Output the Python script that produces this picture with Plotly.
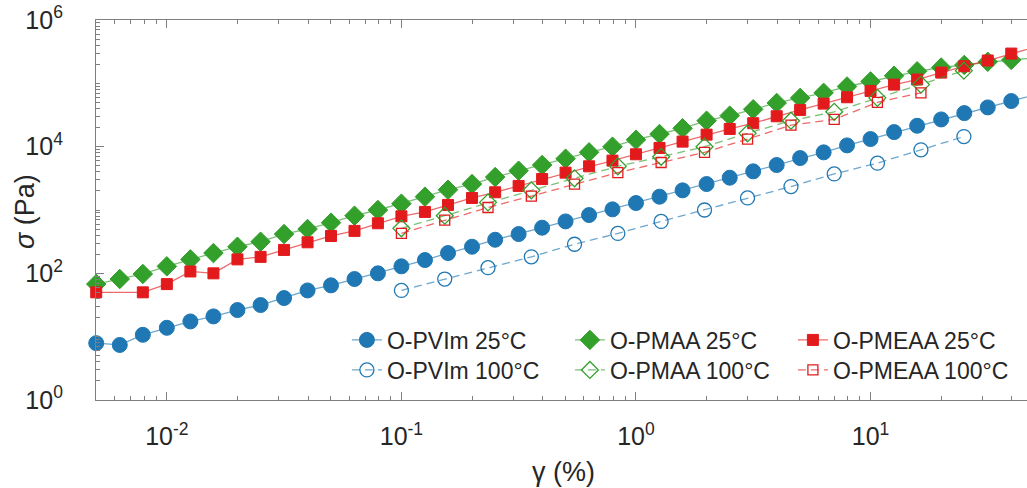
import plotly.graph_objects as go

# ---------------- data ----------------
strain_25 = [0.005, 0.0063, 0.0079, 0.01, 0.0126, 0.0158, 0.02, 0.0251, 0.0316, 0.0398,
             0.0501, 0.0631, 0.0794, 0.1, 0.126, 0.158, 0.2, 0.251, 0.316, 0.398,
             0.501, 0.631, 0.794, 1.0, 1.26, 1.58, 2.0, 2.51, 3.16, 3.98,
             5.01, 6.31, 7.94, 10.0, 12.6, 15.8, 20.0, 25.1, 31.6, 39.8, 50.1]
strain_pmeaa_25 = [0.005, 0.0079, 0.01, 0.0126, 0.0158, 0.02, 0.0251, 0.0316, 0.0398,
                   0.0501, 0.0631, 0.0794, 0.1, 0.126, 0.158, 0.2, 0.251, 0.316, 0.398,
                   0.501, 0.631, 0.794, 1.0, 1.26, 1.58, 2.0, 2.51, 3.16, 3.98,
                   5.01, 6.31, 7.94, 10.0, 12.6, 15.8, 20.0, 25.1, 31.6, 39.8, 50.1]
strain_100 = [0.1, 0.153, 0.234, 0.358, 0.547, 0.837, 1.28, 1.96, 2.99, 4.58,
              7.0, 10.7, 16.4, 25.0]
strain_pmeaa_100 = strain_100[:13]

pvim_25 = [7.9, 7.4, 10.7, 13.8, 17.4, 20.9, 26.3, 31.6, 40.7, 53.7,
           64.6, 81.3, 100, 129, 162, 209, 263, 339, 417, 525,
           661, 832, 1023, 1288, 1622, 2042, 2570, 3236, 4074, 5129,
           6607, 8128, 10470, 13180, 16980, 21380, 26920, 33880, 41690, 52480, 66070]
pmaa_25 = [67.6, 81.3, 97.7, 129, 166, 209, 263, 316, 417, 501,
           631, 813, 1000, 1259, 1622, 2089, 2570, 3311, 4169, 5129,
           6457, 8128, 10000, 12880, 15850, 19500, 25700, 30900, 38900, 48980,
           58880, 70790, 89130, 107200, 131800, 154900, 177800, 195000, 218800, 234400, 251200]
pmeaa_25 = [50.1, 50.1, 67.6, 107, 100, 166, 182, 234, 309,
            389, 468, 617, 794, 933, 1202, 1549, 1905, 2399, 3090,
            3890, 4898, 6026, 7586, 9550, 12020, 15490, 19050, 23440, 30200,
            38020, 47860, 60260, 75860, 95500, 114800, 147900, 186200, 229100, 295100, 371500]
pvim_100 = [53.7, 81.3, 123, 182, 288, 427, 661, 1000, 1549, 2344,
            3715, 5495, 8913, 14450]
pmaa_100 = [513, 813, 1318, 2042, 3162, 4898, 6918, 10000, 16220, 25700,
            35480, 58880, 95500, 158500]
pmeaa_100 = [427, 692, 1096, 1660, 2570, 3890, 5623, 8128, 13180, 21880,
             26920, 50120, 70790]

x_tick_vals = [0.01, 0.1, 1, 10]
x_tick_text = ["10<sup>-2</sup>", "10<sup>-1</sup>", "10<sup>0</sup>", "10<sup>1</sup>"]
y_tick_vals = [1, 100, 10000, 1000000]
y_tick_text = ["10<sup>0</sup>", "10<sup>2</sup>", "10<sup>4</sup>", "10<sup>6</sup>"]

# ---------------- styling ----------------
BLUE, GREEN, RED = "#1f78b4", "#33a02c", "#e31a1c"
BLUE_L, GREEN_L, RED_L = "rgba(31,120,180,0.65)", "rgba(51,160,44,0.65)", "rgba(227,26,28,0.65)"
FONT = "Liberation Sans, Arial, sans-serif"
AX = "#7f7f7f"
TXT = "#262626"

fig = go.Figure()

def add(x, y, name, color, lcolor, symbol, size, dash, legend, open_=False):
    marker = dict(symbol=symbol, size=size, color=color,
                  line=dict(color=color, width=1.3 if open_ else 1))
    fig.add_trace(go.Scatter(
        x=x, y=y, name=name, mode="lines+markers",
        line=dict(color=lcolor, width=1.3, dash=dash),
        marker=marker, cliponaxis=False, legend=legend))

add(strain_25, pvim_25, "O-PVIm 25°C", BLUE, BLUE_L, "circle", 15, "solid", "legend")
add(strain_25, pmaa_25, "O-PMAA 25°C", GREEN, GREEN_L, "diamond", 15, "solid", "legend")
add(strain_pmeaa_25, pmeaa_25, "O-PMEAA 25°C", RED, RED_L, "square", 11, "solid", "legend")
add(strain_100, pvim_100, "O-PVIm 100°C", BLUE, BLUE_L, "circle-open", 14, "8px,5px", "legend2", True)
add(strain_100, pmaa_100, "O-PMAA 100°C", GREEN, GREEN_L, "diamond-open", 13, "8px,5px", "legend2", True)
add(strain_pmeaa_100, pmeaa_100, "O-PMEAA 100°C", RED, RED_L, "square-open", 10, "8px,5px", "legend2", True)

leg_common = dict(orientation="h", bgcolor="rgba(0,0,0,0)", borderwidth=0,
                  font=dict(family=FONT, size=23, color=TXT),
                  entrywidth=178, xanchor="left", yanchor="middle",
                  itemclick=False, tracegroupgap=0)

fig.update_layout(
    width=1027, height=488,
    margin=dict(l=96, r=0, t=20, b=88),
    paper_bgcolor="white", plot_bgcolor="white",
    font=dict(family=FONT, color=TXT),
    legend=dict(x=0.2695, y=0.158, **leg_common),
    legend2=dict(x=0.2695, y=0.079, **leg_common),
    xaxis=dict(
        type="log", range=[-2.302, 1.667], automargin=False,
        tickvals=x_tick_vals, ticktext=x_tick_text,
        ticks="inside", ticklen=8, tickwidth=1, tickcolor=AX,
        showline=True, linecolor=AX, linewidth=1.2, mirror="ticks",
        showgrid=False, zeroline=False,
        tickfont=dict(family=FONT, size=25, color=TXT),
        ticklabelstandoff=14,
        minor=dict(ticks="inside", ticklen=4, tickcolor=AX, dtick="D1", showgrid=False),
    ),
    yaxis=dict(
        type="log", range=[0, 6], automargin=False,
        tickvals=y_tick_vals, ticktext=y_tick_text,
        ticks="inside", ticklen=8, tickwidth=1, tickcolor=AX,
        showline=True, linecolor=AX, linewidth=1.2, mirror=False,
        showgrid=False, zeroline=False,
        tickfont=dict(family=FONT, size=25, color=TXT),
        ticklabelstandoff=27,
        minor=dict(ticks="inside", ticklen=4, tickcolor=AX, dtick="D1", showgrid=False),
    ),
    annotations=[
        dict(text="<i>σ</i> (Pa)", textangle=-90, showarrow=False,
             xref="paper", yref="paper", x=(25 - 96) / 931, y=(400 - 212) / 380,
             xanchor="center", yanchor="middle",
             font=dict(family=FONT, size=27, color=TXT)),
        dict(text="γ (%)", showarrow=False,
             xref="paper", yref="paper", x=(563 - 96) / 931, y=(400 - 472) / 380,
             xanchor="center", yanchor="middle",
             font=dict(family=FONT, size=27, color=TXT)),
    ],
)

fig.write_html("out.html", config={"displayModeBar": False},
               post_script="document.body.style.margin='0px';")
